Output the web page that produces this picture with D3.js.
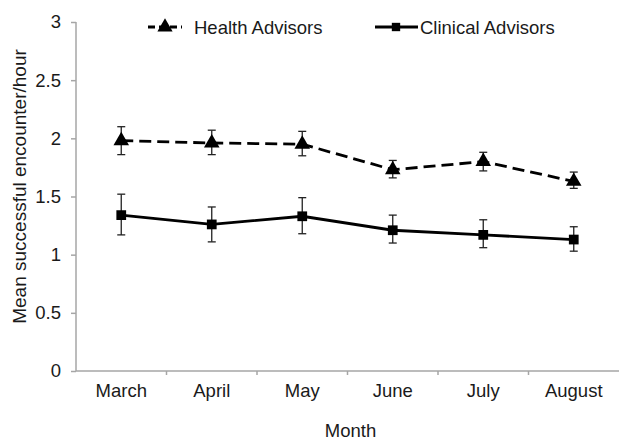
<!DOCTYPE html>
<html>
<head>
<meta charset="utf-8">
<script src="https://cdn.jsdelivr.net/npm/d3@7"></script>
<style>
  html, body { margin: 0; padding: 0; background: #fff; }
  svg { display: block; font-family: "Liberation Sans", Arial, sans-serif; }
</style>
</head>
<body>
<svg id="chart" width="619" height="441"></svg>
<script>
const months = ["March", "April", "May", "June", "July", "August"];
const healthMean = [1.98, 1.96, 1.95, 1.73, 1.80, 1.63];
const healthLow  = [1.86, 1.86, 1.85, 1.66, 1.72, 1.57];
const healthHigh = [2.10, 2.07, 2.06, 1.81, 1.88, 1.71];
const clinicalMean = [1.34, 1.26, 1.33, 1.21, 1.17, 1.13];
const clinicalLow  = [1.17, 1.11, 1.18, 1.10, 1.06, 1.03];
const clinicalHigh = [1.52, 1.41, 1.49, 1.34, 1.30, 1.24];
const yTicks = [0, 0.5, 1, 1.5, 2, 2.5, 3];
const seriesNames = ["Health Advisors", "Clinical Advisors"];
const xTitle = "Month";
const yTitle = "Mean successful encounter/hour";

const svg = d3.select("#chart");
const margin = {left: 76, right: 0, top: 22, bottom: 70};
const W = 619, H = 441;
const x = d3.scaleBand().domain(months).range([margin.left, W - margin.right]);
const y = d3.scaleLinear().domain([0, 3]).range([H - margin.bottom, margin.top]);

const axisColor = "#a6a6a6";
const fontSize = 18.5;

// Y axis
const yAxis = svg.append("g").attr("transform", `translate(${margin.left},0)`)
  .call(d3.axisLeft(y).tickValues(yTicks).tickSize(5).tickPadding(10).tickFormat(d3.format("")));
yAxis.select(".domain").attr("stroke", axisColor).attr("stroke-width", 1.5).attr("d", `M0,${y(3)}V${y(0)}`);
yAxis.selectAll(".tick line").attr("stroke", axisColor).attr("stroke-width", 1.5);
yAxis.selectAll(".tick text").attr("font-size", fontSize).attr("fill", "#1a1a1a").attr("font-family", "Liberation Sans, Arial, sans-serif");

// X axis
const xAxis = svg.append("g").attr("transform", `translate(0,${y(0)})`)
  .call(d3.axisBottom(x).tickSize(0).tickPadding(13));
xAxis.select(".domain").attr("stroke", axisColor).attr("stroke-width", 1.5).attr("d", `M${margin.left},0H${W}`);
xAxis.selectAll(".tick text").attr("font-size", fontSize).attr("fill", "#1a1a1a").attr("font-family", "Liberation Sans, Arial, sans-serif");
xAxis.selectAll(".bound").data(months.slice(1)).enter().append("line")
  .attr("x1", d => x(d)).attr("x2", d => x(d)).attr("y1", 0).attr("y2", 4)
  .attr("stroke", axisColor).attr("stroke-width", 1.5);

// Titles
svg.append("text").attr("x", (margin.left + W) / 2 + 3).attr("y", 437)
  .attr("text-anchor", "middle").attr("font-size", fontSize).attr("fill", "#1a1a1a").text(xTitle);
svg.append("text").attr("transform", `translate(26,${(y(0) + y(3)) / 2 - 10}) rotate(-90)`)
  .attr("text-anchor", "middle").attr("font-size", 19).attr("fill", "#1a1a1a").text(yTitle);

const cx = d => x(d) + x.bandwidth() / 2;
const line = d3.line().x(d => cx(d.m)).y(d => y(d.v));

function drawSeries(mean, low, high, dashed, marker) {
  const data = months.map((m, i) => ({m, v: mean[i], lo: low[i], hi: high[i]}));
  const g = svg.append("g");
  data.forEach(d => {
    g.append("line").attr("x1", cx(d.m)).attr("x2", cx(d.m)).attr("y1", y(d.lo)).attr("y2", y(d.hi))
      .attr("stroke", "#222").attr("stroke-width", 1.3);
    [d.lo, d.hi].forEach(e => g.append("line")
      .attr("x1", cx(d.m) - 4).attr("x2", cx(d.m) + 4).attr("y1", y(e)).attr("y2", y(e))
      .attr("stroke", "#222").attr("stroke-width", 1.3));
  });
  g.append("path").datum(data).attr("d", line).attr("fill", "none").attr("stroke", "#000")
    .attr("stroke-width", 2.8).attr("stroke-dasharray", dashed ? "12,6" : null);
  g.selectAll(".mk").data(data).enter().append("path")
    .attr("transform", d => `translate(${cx(d.m)},${y(d.v)})`)
    .attr("d", d3.symbol().type(marker).size(marker === d3.symbolTriangle ? 105 : 95))
    .attr("fill", "#000");
}
drawSeries(healthMean, healthLow, healthHigh, true, d3.symbolTriangle);
drawSeries(clinicalMean, clinicalLow, clinicalHigh, false, d3.symbolSquare);

// Legend
const legY = 27;
const lg = svg.append("g");
lg.append("line").attr("x1", 148).attr("x2", 182).attr("y1", legY).attr("y2", legY)
  .attr("stroke", "#000").attr("stroke-width", 2.8).attr("stroke-dasharray", "7,4");
lg.append("path").attr("transform", `translate(165,${legY})`).attr("d", d3.symbol().type(d3.symbolTriangle).size(100)).attr("fill", "#000");
lg.append("text").attr("x", 194).attr("y", legY + 7).attr("font-size", fontSize).attr("fill", "#1a1a1a").text(seriesNames[0]);
lg.append("line").attr("x1", 375).attr("x2", 418).attr("y1", legY).attr("y2", legY)
  .attr("stroke", "#000").attr("stroke-width", 2.8);
lg.append("path").attr("transform", `translate(396,${legY})`).attr("d", d3.symbol().type(d3.symbolSquare).size(70)).attr("fill", "#000");
lg.append("text").attr("x", 420).attr("y", legY + 7).attr("font-size", fontSize).attr("fill", "#1a1a1a").text(seriesNames[1]);
</script>
</body>
</html>
